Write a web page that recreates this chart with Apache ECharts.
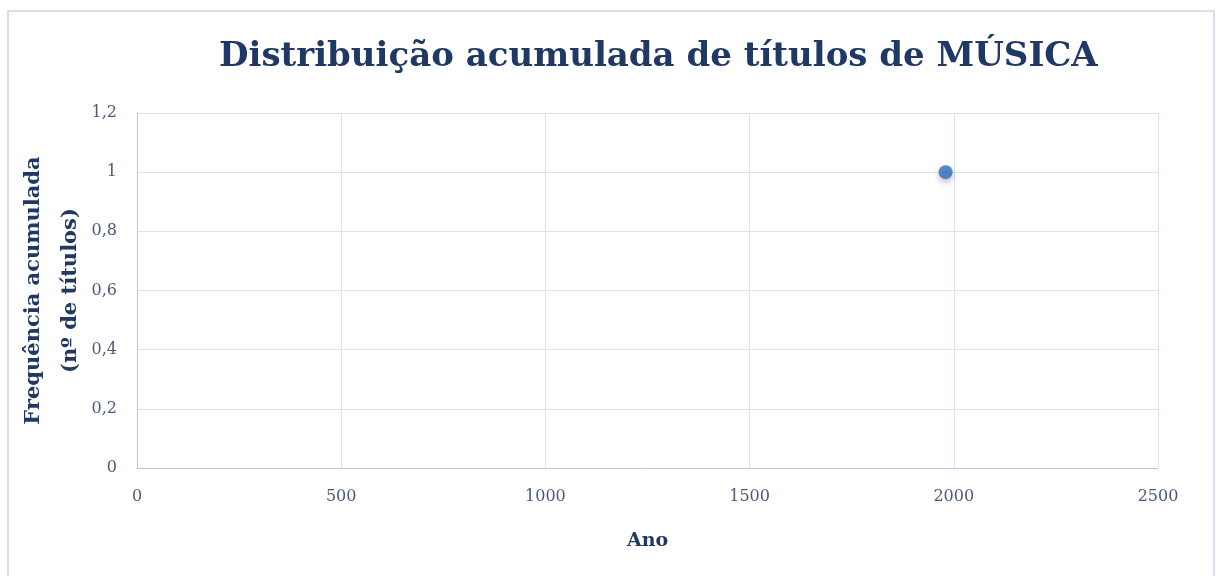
<!DOCTYPE html>
<html>
<head>
<meta charset="utf-8">
<script src="https://cdn.jsdelivr.net/npm/echarts@6/dist/echarts.min.js"></script>
<style>
    html, body {margin:0; padding:0; background:#fff;}
    #chart {width:1216px; height:576px;}
</style>
</head>
<body>
<div id="chart"></div>
<script>
    // dados
    var anos = [1980];
    var freqAcumulada = [1];
    var yTicks = ["0", "0,2", "0,4", "0,6", "0,8", "1", "1,2"];

    var serif = '"DejaVu Serif", "Liberation Serif", serif',
        navy = '#203864',
        labelColor = '#4a5a78',
        gridColor = '#d9e2f3';

    var chart = echarts.init(document.getElementById("chart"));
    chart.setOption({
        animation: false,
        title: {
            text: 'Distribuição acumulada de títulos de MÚSICA',
            left: 214,
            top: 35,
            textStyle: {
                fontFamily: serif,
                fontSize: 34,
                fontWeight: 'bold',
                color: navy
            }
        },
        graphic: [{
            type: 'rect',
            shape: {x: 8, y: 11, width: 1206, height: 580},
            style: {fill: 'none', stroke: '#d6e0f0', lineWidth: 2},
            silent: true
        }],
        grid: {
            left: 137,
            right: 58,
            top: 113,
            bottom: 108
        },
        xAxis: {
            type: 'value',
            min: 0,
            max: 2500,
            interval: 500,
            name: 'Ano',
            nameLocation: 'middle',
            nameGap: 64,
            nameMoveOverlap: false,
            nameTextStyle: {fontFamily: serif, fontSize: 19, fontWeight: 'bold', color: navy},
            axisLine: {show: true, lineStyle: {color: '#b4c7e7'}},
            axisTick: {show: false},
            axisLabel: {
                fontFamily: serif, fontSize: 16, color: labelColor, margin: 21,
                formatter: function (v) { return String(v); }
            },
            splitLine: {show: true, lineStyle: {color: gridColor, width: 1}}
        },
        yAxis: {
            type: 'value',
            min: 0,
            max: 1.2,
            interval: 0.2,
            name: 'Frequência acumulada\n(nº de títulos)',
            nameLocation: 'middle',
            nameGap: 48,
            nameMoveOverlap: false,
            nameTextStyle: {fontFamily: serif, fontSize: 21, fontWeight: 'bold', color: navy, lineHeight: 37},
            axisLine: {show: true, lineStyle: {color: '#b4c7e7'}},
            axisTick: {show: false},
            axisLabel: {
                fontFamily: serif, fontSize: 16, color: labelColor, margin: 20,
                formatter: function (v) {
                    return yTicks[Math.round(v / 0.2)];
                }
            },
            splitLine: {show: true, lineStyle: {color: gridColor, width: 1}}
        },
        series: [{
            type: 'scatter',
            symbol: 'circle',
            symbolSize: 14,
            itemStyle: {
                color: '#2f6fc0',
                shadowBlur: 6,
                shadowOffsetY: 3,
                shadowColor: 'rgba(0,0,0,0.35)'
            },
            data: anos.map(function (a, i) { return [a, freqAcumulada[i]]; })
        }]
    });
</script>
</body>
</html>
